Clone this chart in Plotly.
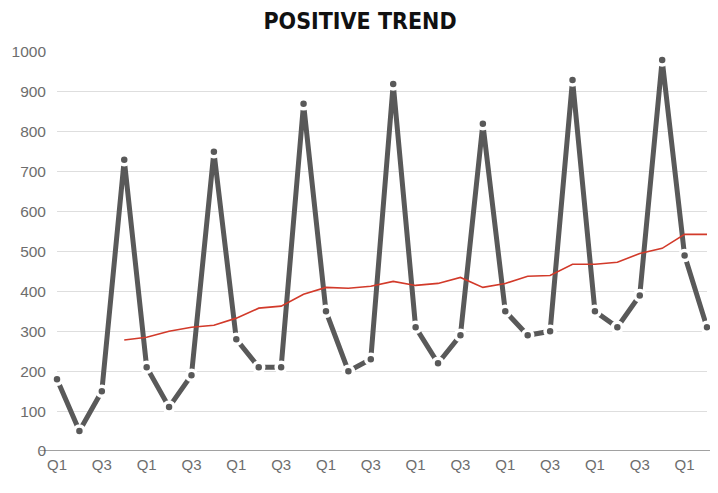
import plotly.graph_objects as go

quarters = ["Q1", "Q2", "Q3", "Q4"] * 7 + ["Q1", "Q2"]
values = [180, 50, 150, 730, 210, 110, 190, 750, 280, 210, 210, 870, 350, 200, 230,
          920, 310, 220, 290, 820, 350, 290, 300, 930, 350, 310, 390, 980, 490, 310]
trend = [None, None, None, 278, 285, 300, 310, 315, 333, 358, 363, 393, 410, 408, 413,
         425, 415, 420, 435, 410, 420, 438, 440, 468, 468, 473, 495, 508, 543, 543]
yticks = list(range(0, 1001, 100))

idx = list(range(len(values)))
tickvals = [i for i in idx if quarters[i] in ("Q1", "Q3")]
ticktext = [quarters[i] for i in tickvals]

# page body has an 8px default margin; compensate
OFF = 8
W, H = 718 - OFF, 493 - OFF
L, R, T, B = 57 - OFF, 11, 52 - OFF, 42
pw = W - L - R

fig = go.Figure()
fig.add_trace(go.Scatter(
    x=idx, y=values, mode="lines+markers",
    line=dict(color="#595959", width=5),
    marker=dict(size=10, color="#595959", line=dict(color="white", width=3.5)),
    cliponaxis=False, hoverinfo="skip", showlegend=False))
fig.add_trace(go.Scatter(
    x=idx, y=trend, mode="lines",
    line=dict(color="#d23a2a", width=1.6),
    cliponaxis=False, hoverinfo="skip", showlegend=False))

fig.add_shape(type="line", xref="paper", yref="y",
              x0=(40 - 57) / pw, x1=(715 - 57) / pw, y0=0, y1=0,
              line=dict(color="#444444", width=1.2), layer="above")

fig.update_layout(
    width=W, height=H,
    margin=dict(l=L, r=R, t=T, b=B, autoexpand=False),
    paper_bgcolor="white", plot_bgcolor="white",
    title=dict(text="<b>POSITIVE TREND</b>", x=(360 - OFF) / W, xanchor="center",
               y=1 - (21 - OFF) / H, yanchor="middle",
               font=dict(family="DejaVu Sans Condensed, DejaVu Sans, sans-serif",
                         size=23, color="#111111")),
    font=dict(family="Liberation Sans, Arial, sans-serif", color="#6a6a6a", size=15),
    xaxis=dict(range=[0, len(values) - 1], tickvals=tickvals, ticktext=ticktext,
               showgrid=False, zeroline=False, showline=False, ticks="",
               automargin=False, ticklabelstandoff=3,
               tickfont=dict(size=15, color="#6d6d6d"), fixedrange=True),
    yaxis=dict(range=[0, 1000], tickvals=yticks, showgrid=True, gridcolor="#dedede",
               gridwidth=1, zeroline=False, showline=False, ticks="",
               automargin=False, ticklabelstandoff=10,
               tickfont=dict(size=15.5, color="#6d6d6d"), fixedrange=True),
)
fig.write_html("out.html")
